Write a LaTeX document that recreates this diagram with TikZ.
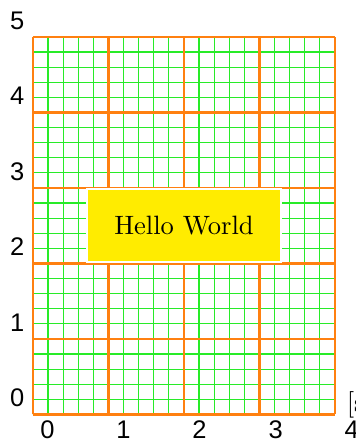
\documentclass[tikz,border=0pt]{standalone}
\usepackage{fontspec}
\newfontfamily\axisfont{Liberation Sans}
\usepackage{tikz}
\usetikzlibrary{positioning}
\definecolor{majorline}{RGB}{255,128,16}
\definecolor{minorline}{RGB}{40,235,40}
\definecolor{hellofill}{RGB}{255,236,0}

\begin{document}
\begin{tikzpicture}[
  minorgrid/.style={draw=minorline, line width=0.45pt},
  majorgrid/.style={draw=majorline, line width=0.8pt},
  axlabel/.style={font=\axisfont\fontsize{9.6}{11}\selectfont, inner sep=0pt},
  hello/.style={draw=white, line width=0.9pt, fill=hellofill, minimum width=2.57cm, minimum height=0.97cm, font=\normalsize}]
  \useasboundingbox (-0.437,-0.351) rectangle (4.278,5.490);
  \draw[minorgrid, step=0.2] (0,0) grid (4,5);
  \draw[majorgrid, step=1] (0,0) grid (4,5);
  \foreach \x in {0,...,4}
    \node[axlabel] (xl\x) at (\x*1.008+0.19,-0.200) {\x};
  \foreach \y in {0,...,5}
    \node[axlabel] (yl\y) at (-0.208,\y+0.22) {\y};
  \node[hello] (hw) at (2,2.505) {Hello World};
  \node[anchor=base west, inner sep=0pt] (cut) at (4.15,0.046) {[s};
\end{tikzpicture}
\end{document}
